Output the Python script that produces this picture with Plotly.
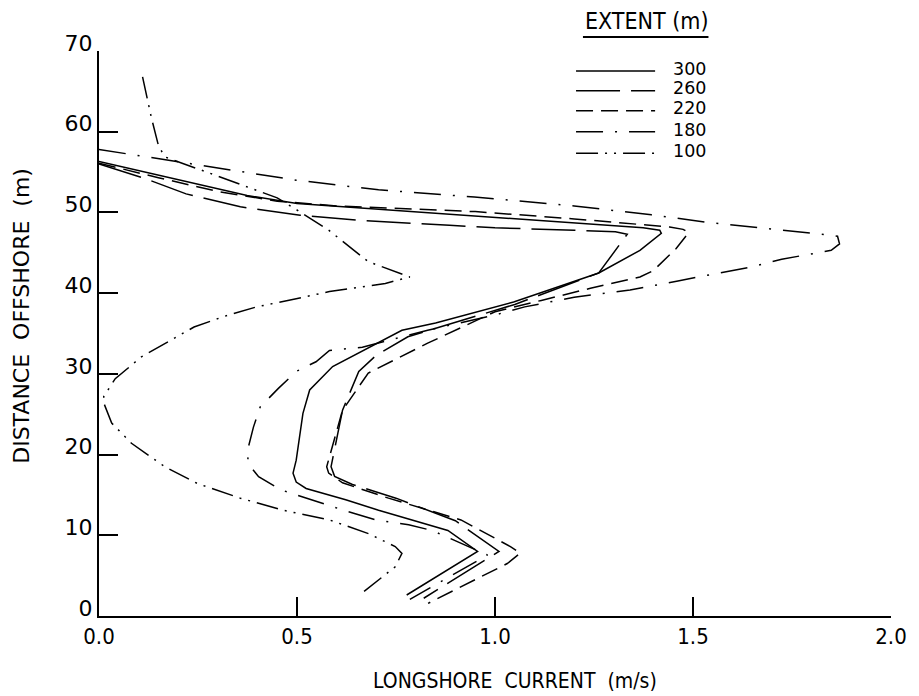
import plotly.graph_objects as go

# ---------------- data ----------------
ext300_x = [0.0, 0.225, 0.374, 0.50, 1.00, 1.374, 1.416, 1.42, 1.366, 1.262, 1.047, 0.85, 0.765, 0.59, 0.532,
            0.515, 0.498, 0.49, 0.498, 0.523, 0.623, 0.706, 0.881, 0.956, 0.777]
ext300_y = [56.3, 53.8, 52.1, 51.1, 49.4, 48.1, 47.8, 47.4, 45.3, 42.5, 38.9, 36.3, 35.4, 30.9, 28.0,
            25.1, 19.3, 17.7, 16.6, 15.8, 14.4, 13.1, 10.6, 8.0, 2.6]

ext260_x = [0.0, 0.116, 0.22, 0.357, 0.508, 0.665, 0.885, 1.0, 1.2, 1.304, 1.334, 1.30, 1.262, 1.05, 0.90,
            0.78, 0.70, 0.656, 0.615, 0.586, 0.595, 0.64, 0.75, 0.90, 1.01, 0.82]
ext260_y = [56.0, 54.2, 52.3, 50.7, 49.65, 49.0, 48.4, 48.1, 47.8, 47.6, 47.3, 45.0, 42.5, 38.6, 36.4,
            34.6, 32.3, 30.3, 25.5, 18.5, 17.3, 16.3, 14.6, 11.8, 8.0, 2.2]

ext220_x = [0.0, 0.15, 0.30, 0.45, 0.60, 0.80, 0.95, 1.20, 1.441, 1.475, 1.489, 1.457, 1.40, 1.366, 1.241,
            1.117, 1.0, 0.83, 0.68, 0.615, 0.575, 0.58, 0.615, 0.731, 0.83, 0.914, 1.039, 1.064, 1.031, 0.831]
ext220_y = [56.1, 54.3, 52.6, 51.4, 50.8, 50.4, 50.1, 49.2, 48.2, 47.9, 47.5, 45.5, 42.8, 42.0, 40.6,
            39.1, 37.7, 33.8, 30.1, 25.5, 18.5, 17.7, 16.5, 14.6, 13.1, 11.9, 8.6, 7.8, 6.5, 1.57]

ext180_x = [0.0, 0.265, 0.498, 0.706, 0.948, 1.2, 1.395, 1.532, 1.674, 1.807, 1.865, 1.87, 1.849, 1.782,
            1.724, 1.653, 1.595, 1.524, 1.462, 1.395, 1.341, 1.2, 1.075, 1.0, 0.83, 0.665, 0.582, 0.548,
            0.498, 0.453, 0.407, 0.39, 0.374, 0.378, 0.403, 0.461, 0.548, 0.618, 0.699, 0.782, 0.841,
            0.886, 0.981, 0.785]
ext180_y = [57.8, 55.8, 54.0, 52.8, 51.9, 50.8, 49.7, 48.8, 48.1, 47.4, 47.05, 46.1, 45.3, 44.7,
            44.2, 43.3, 42.8, 42.1, 41.5, 40.9, 40.4, 39.5, 38.3, 37.3, 35.4, 33.3, 32.9, 31.5,
            30.3, 28.2, 25.9, 23.4, 20.3, 18.8, 17.25, 15.6, 14.2, 13.1, 11.9, 11.3, 10.6,
            9.6, 7.55, 2.07]

ext100_x = [0.11, 0.132, 0.149, 0.165, 0.30, 0.45, 0.51, 0.58, 0.68, 0.76, 0.785, 0.723, 0.582, 0.498,
            0.398, 0.315, 0.24, 0.107, 0.041, 0.012, 0.012, 0.032, 0.082, 0.166, 0.249, 0.357, 0.465,
            0.582, 0.681, 0.748, 0.765, 0.748, 0.661]
ext100_y = [66.8, 61.8, 58.5, 56.9, 54.5, 51.8, 50.0, 47.8, 43.9, 42.4, 42.0, 41.2, 40.2, 39.3,
            38.3, 37.1, 35.8, 32.1, 29.4, 27.2, 26.4, 23.9, 21.4, 18.5, 16.4, 14.6, 13.1,
            11.9, 10.2, 8.6, 7.76, 6.1, 2.72]

extent_labels = ["300", "260", "220", "180", "100"]
x_tick_vals = [0.0, 0.5, 1.0, 1.5, 2.0]
x_tick_text = ["0.0", "0.5", "1.0", "1.5", "2.0"]
y_tick_vals = [0, 10, 20, 30, 40, 50, 60, 70]

# ---------------- styling ----------------
W, H = 919, 696
ML, MR, MT, MB = 99.3, 18.3, 50.7, 80.0
FONT_C = "DejaVu Sans Condensed, Liberation Sans Narrow, DejaVu Sans, sans-serif"
FONT_R = "DejaVu Sans, Liberation Sans, sans-serif"
dashes = ["solid", "44px,11px", "17px,8px", "27px,12px,2px,12px", "22px,7px,2px,7px,2px,7px"]
series = [(ext300_x, ext300_y), (ext260_x, ext260_y), (ext220_x, ext220_y),
          (ext180_x, ext180_y), (ext100_x, ext100_y)]

pw, ph = W - ML - MR, H - MT - MB


def px2paper(px, py):
    return (px - ML) / pw, (H - MB - py) / ph


fig = go.Figure()
for (xs, ys), lab, d in zip(series, extent_labels, dashes):
    fig.add_trace(go.Scatter(x=xs, y=ys, mode="lines", name=lab, showlegend=False,
                             line=dict(color="black", width=1.5, dash=d)))

# legend drawn by hand (lines + numbers)
leg_line_y = [70.7, 90.5, 110.5, 131.5, 153.0]
leg_text_y = [68.3, 87.5, 107.5, 129.3, 150.5]
shapes = []
annotations = []
for lab, d, ly, ty in zip(extent_labels, dashes, leg_line_y, leg_text_y):
    x0, y0 = px2paper(582, ly)
    x1, _ = px2paper(662, ly)
    shapes.append(dict(type="line", xref="paper", yref="paper", x0=x0, x1=x1, y0=y0, y1=y0,
                       line=dict(color="black", width=1.5, dash=d)))
    tx, tyy = px2paper(679, ty)
    annotations.append(dict(text=lab, xref="paper", yref="paper", x=tx, y=tyy, xanchor="left",
                            yanchor="middle", showarrow=False, borderpad=0,
                            font=dict(size=17.5, color="black", family=FONT_R)))

# legend title + underline
tx, tyy = px2paper(719, 21)
annotations.append(dict(text="EXTENT (m)", xref="paper", yref="paper", x=tx, y=tyy, xanchor="right",
                        yanchor="middle", showarrow=False, font=dict(size=23, color="black", family=FONT_C)))
ux0, uy = px2paper(589, 36.7)
ux1, _ = px2paper(716, 36.7)
shapes.append(dict(type="line", xref="paper", yref="paper", x0=ux0, x1=ux1, y0=uy, y1=uy,
                   line=dict(color="black", width=1.8)))

# axis titles
ax, ay = px2paper(520, 681)
annotations.append(dict(text="LONGSHORE  CURRENT  (m/s)", xref="paper", yref="paper", x=ax, y=ay,
                        xanchor="center", yanchor="middle", showarrow=False,
                        font=dict(size=21, color="black", family=FONT_C)))
bx, by = px2paper(21, 316)
annotations.append(dict(text="DISTANCE  OFFSHORE  (m)", xref="paper", yref="paper", x=bx, y=by,
                        xanchor="center", yanchor="middle", textangle=-90, showarrow=False,
                        font=dict(size=22, color="black", family=FONT_R)))

fig.update_layout(
    width=W, height=H,
    margin=dict(l=ML, r=MR, t=MT, b=MB),
    paper_bgcolor="white", plot_bgcolor="white",
    shapes=shapes, annotations=annotations,
    xaxis=dict(range=[0, 2], tickvals=x_tick_vals, ticktext=x_tick_text, ticks="inside", ticklen=19,
               tickwidth=1.6, tickcolor="black", showline=True, linewidth=2, linecolor="black",
               showgrid=False, zeroline=False, tickfont=dict(size=22, color="black", family=FONT_C)),
    yaxis=dict(range=[0, 70], tickvals=y_tick_vals, ticks="inside", ticklen=19, tickwidth=1.6,
               tickcolor="black", showline=True, linewidth=2, linecolor="black", showgrid=False,
               zeroline=False, ticklabelposition="outside", ticklabelshift=-8,
               tickfont=dict(size=22, color="black", family=FONT_R)),
)

fig.write_html("out.html")
